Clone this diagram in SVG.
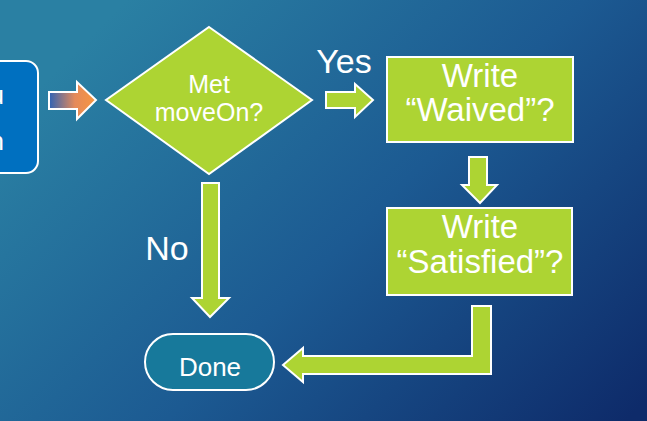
<svg xmlns="http://www.w3.org/2000/svg" width="647" height="421" viewBox="0 0 647 421">
<defs>
<linearGradient id="bg" x1="0" y1="0.3" x2="1" y2="0.95">
<stop offset="0" stop-color="#2A80A3"/>
<stop offset="0.5" stop-color="#1C5A92"/>
<stop offset="1" stop-color="#0E2B6A"/>
</linearGradient>
<linearGradient id="orange" x1="0" y1="0" x2="1" y2="0">
<stop offset="0" stop-color="#2F62B5"/>
<stop offset="0.55" stop-color="#E58A5A"/>
<stop offset="1" stop-color="#F7963F"/>
</linearGradient>
<style>
.g{fill:#ADD433;stroke:#FFFFFF;stroke-width:2;stroke-linejoin:miter}
.t{font-family:"Liberation Sans",Arial,sans-serif;fill:#FFFFFF;text-anchor:middle}
</style>
</defs>
<rect width="647" height="421" fill="url(#bg)"/>

<g id="start">
<rect x="-20" y="61" width="58" height="112" rx="12" fill="#0070C0" stroke="#FFFFFF" stroke-width="2"/>
<text class="t" x="4" y="104" font-size="26" style="text-anchor:end">u</text>
<text class="t" x="4" y="150" font-size="26" style="text-anchor:end">n</text>
</g>

<g id="decision">
<polygon class="g" points="209,27 312,100 209,174 106,100"/>
<text class="t" x="209" y="93" font-size="25">Met</text>
<text class="t" x="209" y="121" font-size="25">moveOn?</text>
</g>

<g id="waived">
<rect class="g" x="387" y="57" width="186" height="85"/>
<text class="t" x="480" y="87" font-size="33">Write</text>
<text class="t" x="480" y="121" font-size="33">“Waived”?</text>
</g>

<g id="satisfied">
<rect class="g" x="387" y="208" width="185" height="87"/>
<text class="t" x="480" y="238" font-size="33">Write</text>
<text class="t" x="480" y="273" font-size="33">“Satisfied”?</text>
</g>

<g id="done">
<rect x="145" y="334" width="129" height="56" rx="28" fill="#17799B" stroke="#FFFFFF" stroke-width="2"/>
<text class="t" x="210" y="376" font-size="26">Done</text>
</g>

<g id="connectors">
<polygon points="49,92 77,92 77,82 96,100 77,119 77,109 49,109" fill="url(#orange)" stroke="#FFFFFF" stroke-width="2"/>
<polygon class="g" points="326,92 355,92 355,84 373,100 355,117 355,108 326,108"/>
<polygon class="g" points="469,157 487,157 487,185 497,185 480,203 462,185 469,185"/>
<polygon class="g" points="202,183 219,183 219,298 229,298 210,317 192,298 202,298"/>
<polygon class="g" points="472,306 491,306 491,374 303,374 303,382 283,365 303,348 303,356 472,356"/>
<text class="t" x="344" y="73" font-size="34">Yes</text>
<text class="t" x="167" y="260" font-size="34">No</text>
</g>
</svg>
